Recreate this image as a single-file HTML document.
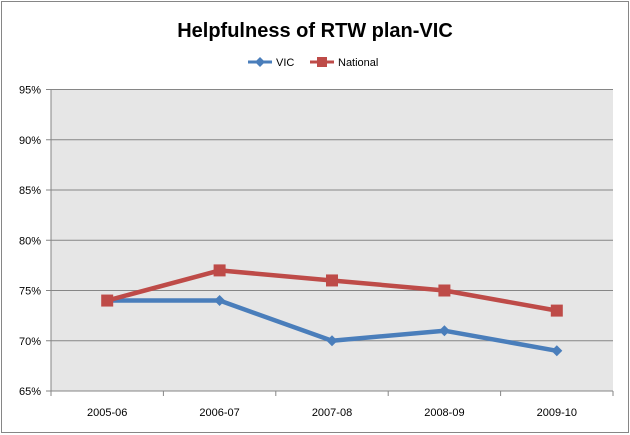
<!DOCTYPE html>
<html><head><style>body{margin:0;background:#fff}svg{display:block}</style></head><body>
<svg width="630" height="435" xmlns="http://www.w3.org/2000/svg" font-family="Liberation Sans, sans-serif">
<rect x="1.5" y="1.5" width="627" height="431" fill="#fff" stroke="#868686"/>
<text x="315" y="37" text-anchor="middle" font-size="20" font-weight="bold">Helpfulness of RTW plan-VIC</text>
<line x1="248" y1="62" x2="272" y2="62" stroke="#4a7ebb" stroke-width="3"/>
<path d="M260 57 L265 62 L260 67 L255 62Z" fill="#4a7ebb"/>
<text x="276" y="66" font-size="11">VIC</text>
<line x1="310" y1="62" x2="334" y2="62" stroke="#be4b48" stroke-width="3"/>
<rect x="317" y="57" width="10" height="10" fill="#be4b48"/>
<text x="338" y="66" font-size="11">National</text>
<rect x="51" y="89.5" width="562" height="301.5" fill="#e6e6e6"/>
<g stroke="#868686" stroke-width="1">
<line x1="46" y1="89.5" x2="613" y2="89.5"/><line x1="46" y1="139.75" x2="613" y2="139.75"/><line x1="46" y1="190" x2="613" y2="190"/><line x1="46" y1="240.25" x2="613" y2="240.25"/><line x1="46" y1="290.5" x2="613" y2="290.5"/><line x1="46" y1="340.75" x2="613" y2="340.75"/><line x1="46" y1="391" x2="613" y2="391"/>
<line x1="51" y1="89.5" x2="51" y2="391"/>
<line x1="51" y1="391" x2="51" y2="396"/><line x1="163.4" y1="391" x2="163.4" y2="396"/><line x1="275.8" y1="391" x2="275.8" y2="396"/><line x1="388.2" y1="391" x2="388.2" y2="396"/><line x1="500.6" y1="391" x2="500.6" y2="396"/><line x1="613" y1="391" x2="613" y2="396"/>
</g>
<g font-size="11" text-anchor="end">
<text x="41" y="93.5">95%</text><text x="41" y="143.75">90%</text><text x="41" y="194">85%</text><text x="41" y="244.25">80%</text><text x="41" y="294.5">75%</text><text x="41" y="344.75">70%</text><text x="41" y="395">65%</text>
</g>
<g font-size="11" text-anchor="middle">
<text x="107.2" y="416">2005-06</text><text x="219.6" y="416">2006-07</text><text x="332" y="416">2007-08</text><text x="444.4" y="416">2008-09</text><text x="556.8" y="416">2009-10</text>
</g>
<polyline points="107.2,300.55 219.6,300.55 332,340.75 444.4,330.7 556.8,350.8" fill="none" stroke="#4a7ebb" stroke-width="4.5" stroke-linejoin="round"/>
<g fill="#4a7ebb">
<path d="M107.2 295l5.5 5.5-5.5 5.5-5.5-5.5z"/><path d="M219.6 295l5.5 5.5-5.5 5.5-5.5-5.5z"/><path d="M332 335.2l5.5 5.5-5.5 5.5-5.5-5.5z"/><path d="M444.4 325.2l5.5 5.5-5.5 5.5-5.5-5.5z"/><path d="M556.8 345.3l5.5 5.5-5.5 5.5-5.5-5.5z"/>
</g>
<polyline points="107.2,300.55 219.6,270.4 332,280.45 444.4,290.5 556.8,310.6" fill="none" stroke="#be4b48" stroke-width="4.5" stroke-linejoin="round"/>
<g fill="#be4b48">
<rect x="101.2" y="294.55" width="12" height="12"/><rect x="213.6" y="264.4" width="12" height="12"/><rect x="326" y="274.45" width="12" height="12"/><rect x="438.4" y="284.5" width="12" height="12"/><rect x="550.8" y="304.6" width="12" height="12"/>
</g>
</svg>
</body></html>
